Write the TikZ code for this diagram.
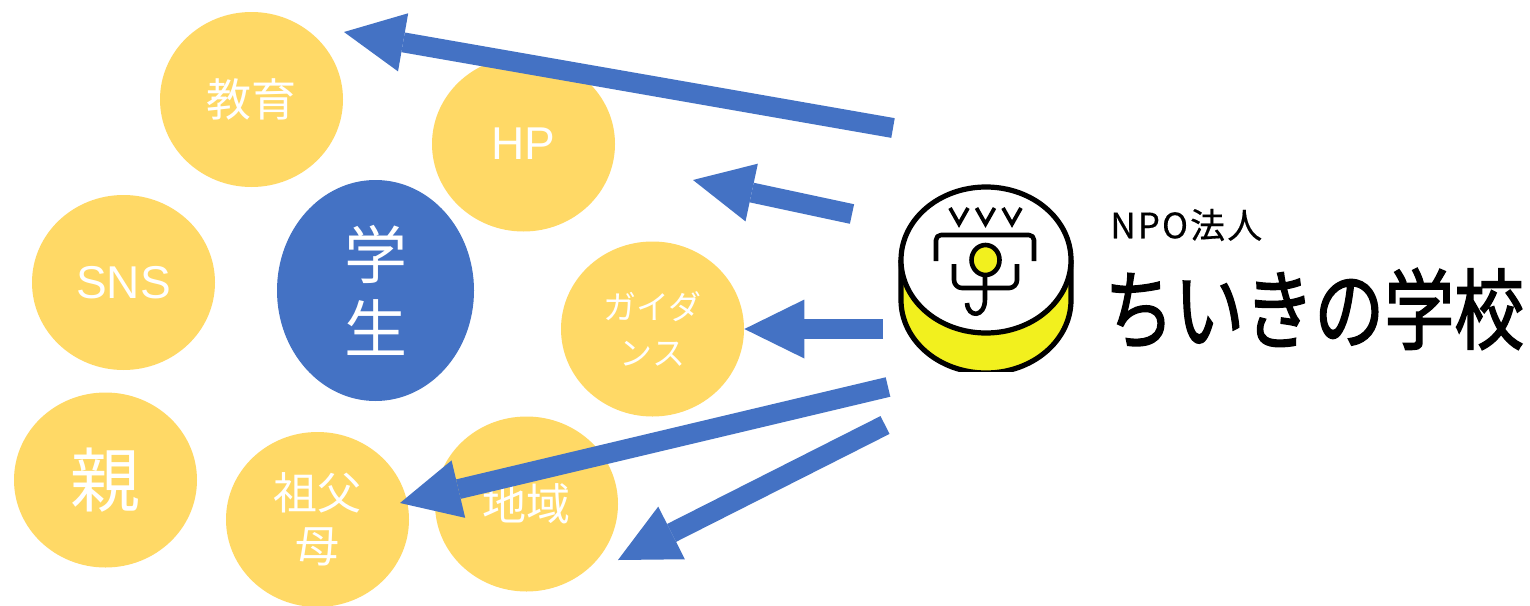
\documentclass[tikz,border=0pt]{standalone}
\usepackage{fontspec}
\setmainfont{Liberation Sans}
\newfontfamily\jpfont{Noto Sans CJK JP}
\newfontfamily\jpspaced[LetterSpace=6,FakeBold=0.4]{Noto Sans CJK JP}
\newfontfamily\logofont[FakeStretch=0.795,FakeBold=1.6]{Noto Sans CJK JP}
\usetikzlibrary{shapes.geometric,arrows.meta}
\definecolor{bub}{HTML}{FFD966}
\definecolor{arr}{HTML}{4472C4}
\definecolor{logoy}{HTML}{F2F01E}
\tikzset{
  bubble/.style={ellipse,fill=bub,text=white,inner sep=0pt,minimum width=91.5pt,minimum height=87.5pt,align=center},
  student/.style={ellipse,fill=arr,text=white,inner sep=0pt,minimum width=98.5pt,minimum height=110.5pt,align=center},
  bigarrow/.style={draw=arr,line width=10pt,-{Triangle[length=30pt,width=29.5pt,line width=0pt,fill=arr]}},
  logoline/.style={draw=black,line width=2.3pt,line cap=round,line join=round},
  vmark/.style={draw=black,line width=1.9pt,line cap=butt,line join=miter},
  jpa/.style={font=\jpfont\fontsize{22.5}{26}\selectfont},
  lat/.style={font=\fontsize{23}{26}\selectfont}
}
\begin{document}
\begin{tikzpicture}[x=0.5pt,y=-0.5pt]
\useasboundingbox (0,0) rectangle (1530,605);
\fill[white] (0,0) rectangle (1530,605);
% bubbles
\node[bubble,jpa] (kyoiku) at (251.5,99.5) {教育};
\node[bubble,lat] (hp) at (523.5,144) {HP};
\node[bubble,lat] (sns) at (123.5,282.5) {SNS};
\node[student,font=\jpfont\fontsize{31.5}{37}\selectfont] (gakusei) at (375.5,290.5) {学\\生};
\node[bubble,font=\jpfont\fontsize{16.5}{23}\selectfont] (guidance) at (652.5,329) {ガイダ\\ンス};
\node[bubble,font=\jpfont\fontsize{35}{40}\selectfont] (oya) at (105.5,480) {親};
\node[bubble,font=\jpfont\fontsize{22}{26.5}\selectfont] (chiiki) at (526.5,504) {地域};
\node[bubble,font=\jpfont\fontsize{22}{26.5}\selectfont] (sofubo) at (317.5,519.5) {祖父\\母};
% logo
\begin{scope}
\clip (880,170) rectangle (1100,371);
\fill[logoy] (901,260) -- (901,300) arc[x radius=85,y radius=73,start angle=180,end angle=0] -- (1071,260) -- cycle;
\draw[black,line width=2.6pt] (901,260) -- (901,300) arc[x radius=85,y radius=73,start angle=180,end angle=0] -- (1071,260);
\fill[white] (986,260) ellipse[x radius=85,y radius=73];
\draw[black,line width=2.6pt] (986,260) ellipse[x radius=85,y radius=73];
\end{scope}
\draw[vmark] (950,208) -- (959,224) -- (968,208);
\draw[vmark] (976.5,208) -- (985.5,224) -- (994.5,208);
\draw[vmark] (1003,208) -- (1012,224) -- (1021,208);
\draw[logoline,line cap=butt,rounded corners=2.5pt] (936,261) -- (936,235) -- (1034,235) -- (1034,261);
\draw[logoline,line cap=butt,rounded corners=4pt] (954,264) -- (954,288) -- (1017,288) -- (1017,264);
\draw[logoline,fill=logoy] (985.5,260) ellipse[x radius=14,y radius=15];
\draw[logoline,line cap=butt] (985,275) -- (985,299) .. controls (985,318) and (968,318) .. (967,303);
% logo text
\node[anchor=west,inner sep=0pt,font=\jpspaced\fontsize{17.5}{20}\selectfont] (npo) at (1110,225) {NPO法人};
\node[anchor=west,inner sep=0pt,font=\logofont\fontsize{44}{50}\selectfont] (logotext) at (1104,309) {ちいきの学校};
% arrows
\coordinate (a1s) at (893,128); \coordinate (a1t) at (344,32);
\coordinate (a2s) at (852,214); \coordinate (a2t) at (693,180);
\coordinate (a3s) at (883,329);
\coordinate (a4s) at (888,387); \coordinate (a4t) at (400,503);
\coordinate (a5s) at (885,425); \coordinate (a5t) at (618,560);
\draw[bigarrow] (a1s) -- (a1t);
\draw[bigarrow] (a2s) -- (a2t);
\draw[bigarrow] (a3s) -- (guidance.east);
\draw[bigarrow] (a4s) -- (a4t);
\draw[bigarrow] (a5s) -- (a5t);
\end{tikzpicture}
\end{document}
